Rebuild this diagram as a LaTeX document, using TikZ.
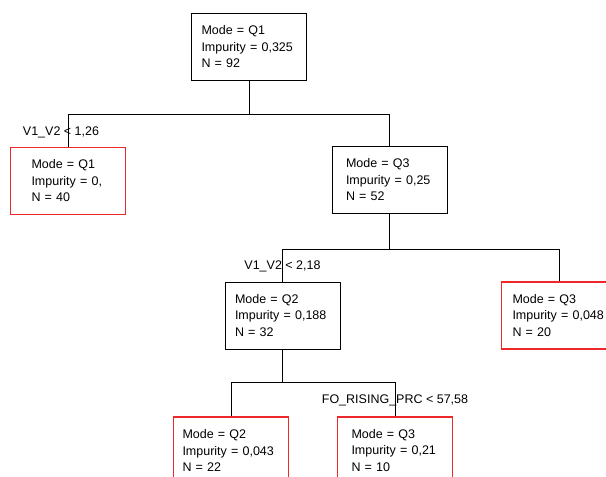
\documentclass[tikz,border=0pt]{standalone}
\usepackage{fontspec}
\setmainfont{Liberation Sans}
\usetikzlibrary{positioning}
\definecolor{leafred}{RGB}{238,40,40}

\begin{document}
\begin{tikzpicture}[x=1pt,y=-1pt,
	tbox/.style={draw,line width=0.9pt,align=left,minimum width=115pt,minimum height=67pt,
		font=\fontsize{12.5}{16.5}\selectfont},
	leaf/.style={tbox,draw=leafred,line width=1.1pt},
	split/.style={inner sep=0pt,font=\fontsize{12.5}{15}\selectfont},
	edge/.style={line width=0.9pt}]

\useasboundingbox (0,0) rectangle (606,477);
\clip (0,0) rectangle (606,477);

% tree nodes
\node[tbox,inner xsep=10pt,text width=95pt] (root) at (249,47) {Mode = Q1\\Impurity = 0,325\\N = 92};
\node[leaf,inner xsep=21pt,text width=73pt] (q1) at (68,181) {Mode = Q1\\Impurity = 0,\\N = 40};
\node[tbox,inner xsep=14pt,text width=87pt] (q3) at (389.5,180) {Mode = Q3\\Impurity = 0,25\\N = 52};
\node[tbox,inner xsep=10pt,text width=95pt] (q2) at (282.5,315.5) {Mode = Q2\\Impurity = 0,188\\N = 32};
\node[leaf,inner xsep=11pt,text width=93pt] (q3b) at (559,315.5) {Mode = Q3\\Impurity = 0,048\\N = 20};
\node[leaf,inner xsep=9pt,text width=97pt] (q2b) at (231,450.5) {Mode = Q2\\Impurity = 0,043\\N = 22};
\node[leaf,inner xsep=14pt,text width=87pt] (q3c) at (395,450.5) {Mode = Q3\\Impurity = 0,21\\N = 10};

% branches
\draw[edge] (root.south) -- ++(0,33) coordinate (b1);
\draw[edge] (q1.north) |- (b1) -| (q3.north);
\draw[edge] (q3.south) -- ++(0,35) coordinate (b2);
\draw[edge] (q2.north) |- (b2) -| (q3b.north);
\draw[edge] (q2.south) -- ++(0,33) coordinate (b3);
\draw[edge] (q2b.north) |- (b3) -| (q3c.north);

% split rules
\node[split] (c1) at ([xshift=-7pt,yshift=15pt]q1.north) {V1\_V2 < 1,26};
\node[split] (c2) at ([yshift=15pt]q2.north) {V1\_V2 < 2,18};
\node[split] (c3) at ([yshift=16pt]q3c.north) {FO\_RISING\_PRC < 57,58};
\end{tikzpicture}
\end{document}
